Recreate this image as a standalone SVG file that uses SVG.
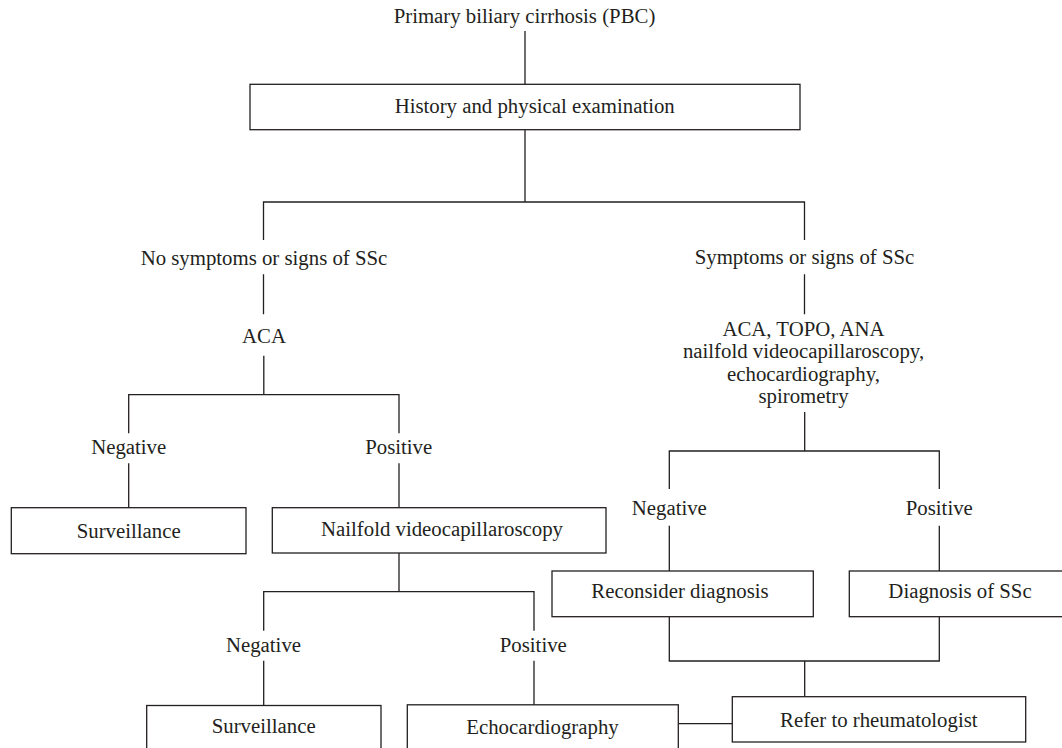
<svg xmlns="http://www.w3.org/2000/svg" width="1062" height="748" viewBox="0 0 1062 748">
<style>
  .box { fill: #ffffff; stroke: #231f20; stroke-width: 1.3; }
  .ln { fill: none; stroke: #231f20; stroke-width: 1.3; }
  text { font-family: "Liberation Serif", "Times New Roman", serif; font-size: 20.8px; fill: #231f20; text-anchor: middle; }
</style>
<rect width="1062" height="748" fill="#ffffff"/>
<g id="connectors">
  <path class="ln" d="M525 31 V84.3"/>
  <path class="ln" d="M525 129.7 V202 M263.5 240 V202 H804.5 V240"/>
  <path class="ln" d="M263.5 274.3 V314.3 M804.5 274.3 V314.3"/>
  <path class="ln" d="M263.8 355.7 V394.7 M128.7 433.3 V394.7 H399 V433.3"/>
  <path class="ln" d="M128.7 463.3 V507.7 M399 463.3 V507.7"/>
  <path class="ln" d="M399 553 V591.7 M263.7 630.7 V591.7 H534 V630.7"/>
  <path class="ln" d="M263.7 660.7 V705.5 M534 660.7 V705"/>
  <path class="ln" d="M804.7 412 V451 M669.3 489 V451 H939.3 V489"/>
  <path class="ln" d="M669.3 525.7 V571 M939.3 525.7 V571"/>
  <path class="ln" d="M669.3 616.7 V661 H939.3 V616.7 M804.7 661 V696.7"/>
  <path class="ln" d="M678.3 723.7 H732.3"/>
</g>
<g id="pbc"><text x="524.5" y="22.7">Primary biliary cirrhosis (PBC)</text></g>
<g id="history"><rect class="box" x="250" y="84.3" width="550" height="45.4"/><text x="534.7" y="113.3">History and physical examination</text></g>
<g id="no-symptoms"><text x="264" y="265">No symptoms or signs of SSc</text></g>
<g id="symptoms"><text x="804.5" y="264">Symptoms or signs of SSc</text></g>
<g id="aca"><text x="264" y="342.7">ACA</text></g>
<g id="tests">
  <text x="803.5" y="335.5">ACA, TOPO, ANA</text>
  <text x="803.5" y="358">nailfold videocapillaroscopy,</text>
  <text x="803.5" y="380.5">echocardiography,</text>
  <text x="803.5" y="403">spirometry</text>
</g>
<g id="neg1"><text x="128.7" y="454">Negative</text></g>
<g id="pos1"><text x="398.7" y="454">Positive</text></g>
<g id="surveillance1"><rect class="box" x="11.3" y="507.7" width="234.7" height="46"/><text x="128.7" y="538.3">Surveillance</text></g>
<g id="nailfold"><rect class="box" x="272.3" y="507.7" width="333.7" height="45.3"/><text x="442" y="535.5">Nailfold videocapillaroscopy</text></g>
<g id="neg2"><text x="263.5" y="651.7">Negative</text></g>
<g id="pos2"><text x="533.3" y="651.7">Positive</text></g>
<g id="surveillance2"><rect class="box" x="146.7" y="705.5" width="234.3" height="60"/><text x="263.7" y="732.7">Surveillance</text></g>
<g id="echo"><rect class="box" x="407.3" y="704.8" width="271" height="60"/><text x="542.5" y="734">Echocardiography</text></g>
<g id="neg3"><text x="669.3" y="515">Negative</text></g>
<g id="pos3"><text x="939.3" y="514.5">Positive</text></g>
<g id="reconsider"><rect class="box" x="552" y="571" width="261.3" height="45.7"/><text x="680" y="598.3">Reconsider diagnosis</text></g>
<g id="diagnosis"><rect class="box" x="849.3" y="571" width="230" height="45.7"/><text x="960" y="598.3">Diagnosis of SSc</text></g>
<g id="refer"><rect class="box" x="732.3" y="696.7" width="293.4" height="45.3"/><text x="878.8" y="726.7">Refer to rheumatologist</text></g>
</svg>
